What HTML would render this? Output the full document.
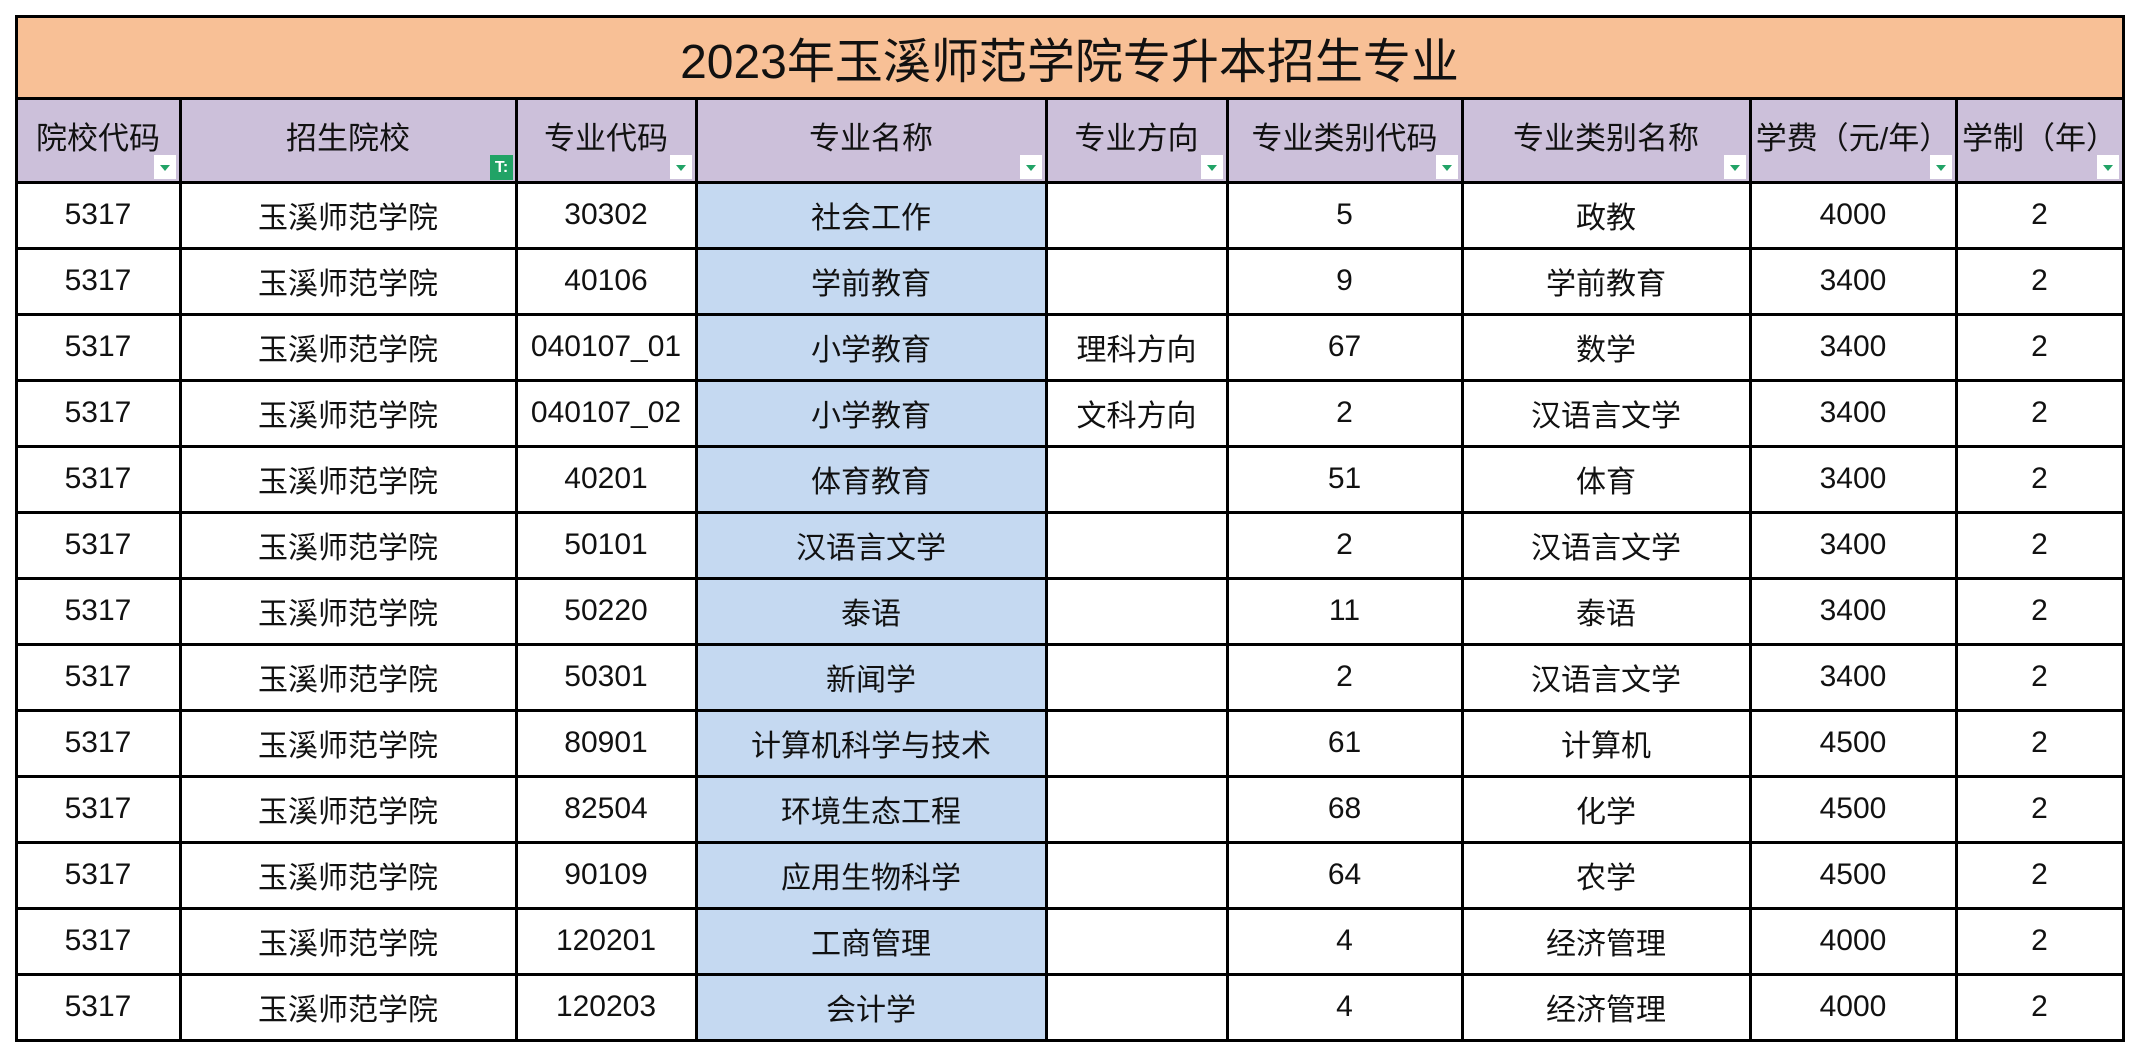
<!DOCTYPE html>
<html><head><meta charset="utf-8"><style>
body{margin:0;width:2140px;height:1056px;background:#fff;position:relative;overflow:hidden;font-family:"Liberation Sans","Noto Sans CJK SC",sans-serif;color:#111}
.c{position:absolute;display:flex;align-items:center;justify-content:center;font-size:30px;box-sizing:border-box}
.l{position:absolute;background:#000}
.f{position:absolute;width:22px;height:24px;background:#fff}
.f:after{content:"";position:absolute;left:6px;top:10px;border-left:5px solid transparent;border-right:5px solid transparent;border-top:6px solid #21a366}
</style></head><body>
<div class="c" style="left:16px;top:16px;width:2107px;height:82px;background:#F8C096;font-size:48px">2023年玉溪师范学院专升本招生专业</div>
<div id="t"></div>
<script>
var xs=[16,180,516,696,1046,1227,1462,1750,1956,2123];
var hd=["院校代码","招生院校","专业代码","专业名称","专业方向","专业类别代码","专业类别名称","学费（元/年）","学制（年）"];
var rows=[["30302","社会工作","","5","政教","4000"],["40106","学前教育","","9","学前教育","3400"],["040107_01","小学教育","理科方向","67","数学","3400"],["040107_02","小学教育","文科方向","2","汉语言文学","3400"],["40201","体育教育","","51","体育","3400"],["50101","汉语言文学","","2","汉语言文学","3400"],["50220","泰语","","11","泰语","3400"],["50301","新闻学","","2","汉语言文学","3400"],["80901","计算机科学与技术","","61","计算机","4500"],["82504","环境生态工程","","68","化学","4500"],["90109","应用生物科学","","64","农学","4500"],["120201","工商管理","","4","经济管理","4000"],["120203","会计学","","4","经济管理","4000"]];
var h="";
for(var i=0;i<9;i++){h+='<div class="c" style="left:'+xs[i]+'px;top:98px;width:'+(xs[i+1]-xs[i])+'px;height:84px;background:#CCC0DA;padding-bottom:10px;font-size:31px">'+hd[i]+'</div>';
 if(i==1)h+='<div style="position:absolute;left:'+(xs[i+1]-26)+'px;top:155px;width:23px;height:25px;background:#21a366;color:#fff;font-size:16px;font-weight:bold;text-align:center;line-height:25px">T:</div>';
 else h+='<div class="f" style="left:'+(xs[i+1]-26)+'px;top:155px"></div>';}
for(var r=0;r<13;r++){var y=182+r*66;var d=["5317","玉溪师范学院"].concat(rows[r]).concat(["2"]);
 for(var i=0;i<9;i++){h+='<div class="c" style="left:'+xs[i]+'px;top:'+y+'px;width:'+(xs[i+1]-xs[i])+'px;height:66px;'+(i==3?'background:#C5D9F1':'')+'">'+d[i]+'</div>';}}
var ys=[16,98,182];for(var r=1;r<=13;r++)ys.push(182+r*66);
ys.forEach(function(y){h+='<div class="l" style="left:15px;top:'+(y-1)+'px;width:2110px;height:3px"></div>'});
xs.forEach(function(x,i){h+='<div class="l" style="left:'+(x-1)+'px;top:'+(i==0||i==9?16:98)+'px;width:3px;height:'+(i==0||i==9?1025:943)+'px"></div>'});
document.getElementById("t").innerHTML=h;
</script>
</body></html>
